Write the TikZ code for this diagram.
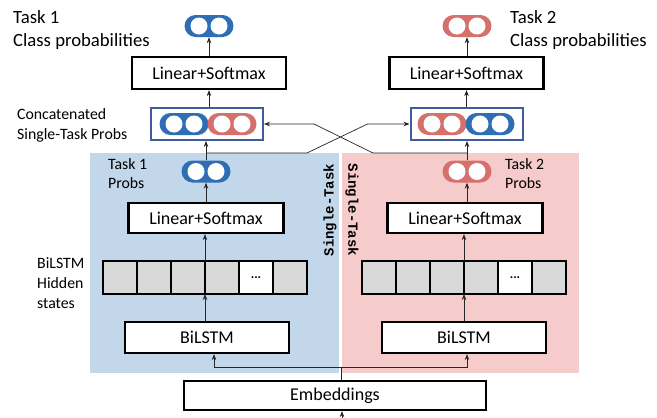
\documentclass[tikz,border=0pt]{standalone}
\usepackage{fontspec}
\setmainfont{Carlito}
\newfontfamily\codefont{Liberation Mono}
\usetikzlibrary{arrows.meta,positioning,calc}

\definecolor{taskblue}{RGB}{47,110,183}
\definecolor{taskred}{RGB}{214,112,108}
\definecolor{panelblue}{RGB}{195,215,235}
\definecolor{panelred}{RGB}{245,204,203}
\definecolor{catframe}{RGB}{64,92,158}
\definecolor{cellgray}{RGB}{216,216,216}

\tikzset{
  layer/.style={draw, line width=2.2pt, fill=white, inner sep=0pt, minimum height=31pt, font=\fontsize{18}{21}\selectfont},
  blob/.style={rounded corners=11pt, minimum width=49pt, minimum height=22pt, inner sep=0pt},
  hole/.style={circle, fill=white, minimum size=17pt, inner sep=0pt},
  cell/.style={draw, line width=1.8pt, minimum width=34pt, minimum height=33pt, inner sep=0pt, outer sep=0pt, font=\bfseries\fontsize{13}{13}\selectfont},
  catbox/.style={draw=catframe, line width=2pt, fill=white, minimum width=112pt, minimum height=32pt, inner sep=0pt},
  flow/.style={-{Stealth[length=6pt,width=4.5pt]}, line width=0.7pt, black!85},
  note/.style={align=left, inner sep=0pt, anchor=west, font=\fontsize{15.8}{20}\selectfont},
  title/.style={align=left, inner sep=0pt, anchor=west, font=\fontsize{18.7}{23}\selectfont},
  sidetag/.style={font=\codefont\bfseries\fontsize{14}{14}\selectfont, inner sep=0pt}
}

% probability vector: coloured pill with two white slots
\newcommand{\probvec}[3]{%
  \node[blob, fill=#3] (#1) at (#2) {};
  \node[hole] (#1-a) at ($(#1.center)+(-10,0)$) {};
  \node[hole] (#1-b) at ($(#1.center)+(10,0)$) {};
}

\begin{document}
\begin{tikzpicture}[x=1pt, y=-1pt]
  \useasboundingbox (0,0) rectangle (657,418);

  % Single-task panels
  \fill[panelblue] (90,153) rectangle (339,373);
  \fill[panelred] (342,153) rectangle (579,373);
  \node[sidetag, rotate=90] (tag1) at (330,210) {Single-Task};
  \node[sidetag, rotate=-90] (tag2) at (352,210) {Single-Task};

  % Shared embeddings
  \node[layer, minimum width=302pt, minimum height=29pt] (emb) at (335,395.5) {Embeddings};

  % Task 1 column
  \node[layer, minimum width=164pt] (lstm1) at (207,337.5) {BiLSTM};
  \foreach \i/\f in {1/cellgray,2/cellgray,3/cellgray,4/cellgray,5/white,6/cellgray}
    \node[cell, fill=\f] (hid1-\i) at ({86+34*\i},277.5) {\ifnum\i=5 ...\fi};
  \node[layer, minimum width=155pt, minimum height=30pt] (mlin1) at (206,218) {Linear+Softmax};
  \probvec{t1p}{206,171.5}{taskblue}
  \node[catbox] (cat1) at (207,124) {};
  \probvec{cat1l}{184,124}{taskblue}
  \probvec{cat1r}{232,124}{taskred}
  \node[layer, minimum width=154pt, minimum height=32pt] (lin1) at (209,73) {Linear+Softmax};
  \probvec{out1}{209,26}{taskblue}

  % Task 2 column
  \node[layer, minimum width=164pt] (lstm2) at (464,337.5) {BiLSTM};
  \foreach \i/\f in {1/cellgray,2/cellgray,3/cellgray,4/cellgray,5/white,6/cellgray}
    \node[cell, fill=\f] (hid2-\i) at ({345+34*\i},277.5) {\ifnum\i=5 ...\fi};
  \node[layer, minimum width=155pt, minimum height=30pt] (mlin2) at (465,218) {Linear+Softmax};
  \probvec{t2p}{467,171.5}{taskred}
  \node[catbox] (cat2) at (466.5,124) {};
  \probvec{cat2l}{442,124}{taskred}
  \probvec{cat2r}{490,124}{taskblue}
  \node[layer, minimum width=154pt, minimum height=32pt] (lin2) at (466.5,73) {Linear+Softmax};
  \probvec{out2}{467,26}{taskred}

  % Labels
  \node[title] (lab-out1) at (13,30) {Task 1\\Class probabilities};
  \node[title] (lab-out2) at (510,30) {Task 2\\Class probabilities};
  \node[note] (lab-cat) at (17,125) {Concatenated\\Single-Task Probs};
  \node[note, font=\fontsize{15.8}{19}\selectfont] (lab-t1p) at (108,174) {Task 1\\Probs};
  \node[note, font=\fontsize{15.8}{19}\selectfont] (lab-t2p) at (505,174) {Task 2\\Probs};
  \node[note] (lab-hid) at (37,283) {BiLSTM\\Hidden\\states};

  % Embeddings feed both encoders
  \coordinate (input) at (342,425);
  \coordinate (split) at (341,367);
  \draw[flow] (input) -- (input |- emb.south);
  \draw[line width=0.7pt, black!85] (emb.north -| split) -- (split);
  \draw[flow] (split) -| ([xshift=7pt]lstm1.south);
  \draw[flow] (split) -| ([xshift=3pt]lstm2.south);

  % Single-task stacks
  \draw[flow] (lstm1.north -| hid1-4.west) -- (hid1-4.south west);
  \draw[flow] (hid1-4.north west) -- (hid1-4.north west |- mlin1.south);
  \draw[flow] (mlin1.north -| t1p) -- (t1p.south);
  \draw[flow] (t1p.north) -- (t1p.north |- cat1.south);
  \draw[flow] (lin1.south |- cat1.north) -- (lin1.south);
  \draw[flow] (lin1.north -| out1) -- (out1.south);

  \draw[flow] (lstm2.north -| hid2-4.west) -- (hid2-4.south west);
  \draw[flow] (hid2-4.north west) -- (hid2-4.north west |- mlin2.south);
  \draw[flow] (mlin2.north -| t2p) -- (t2p.south);
  \draw[flow] (t2p.north) -- (t2p.north |- cat2.south);
  \draw[flow] (lin2.south |- cat2.north) -- (lin2.south);
  \draw[flow] (lin2.north -| out2) -- (out2.south);

  % Cross connections into the concatenation
  \coordinate (fork1) at (206,153);
  \coordinate (fork2) at (467,153);
  \draw[flow] (fork1) -- ++(101,0) -- ([xshift=-42pt]cat2.west) -- (cat2.west);
  \draw[flow] (fork2) -- ++(-94,0) -- ([xshift=50pt]cat1.east) -- (cat1.east);
\end{tikzpicture}
\end{document}
